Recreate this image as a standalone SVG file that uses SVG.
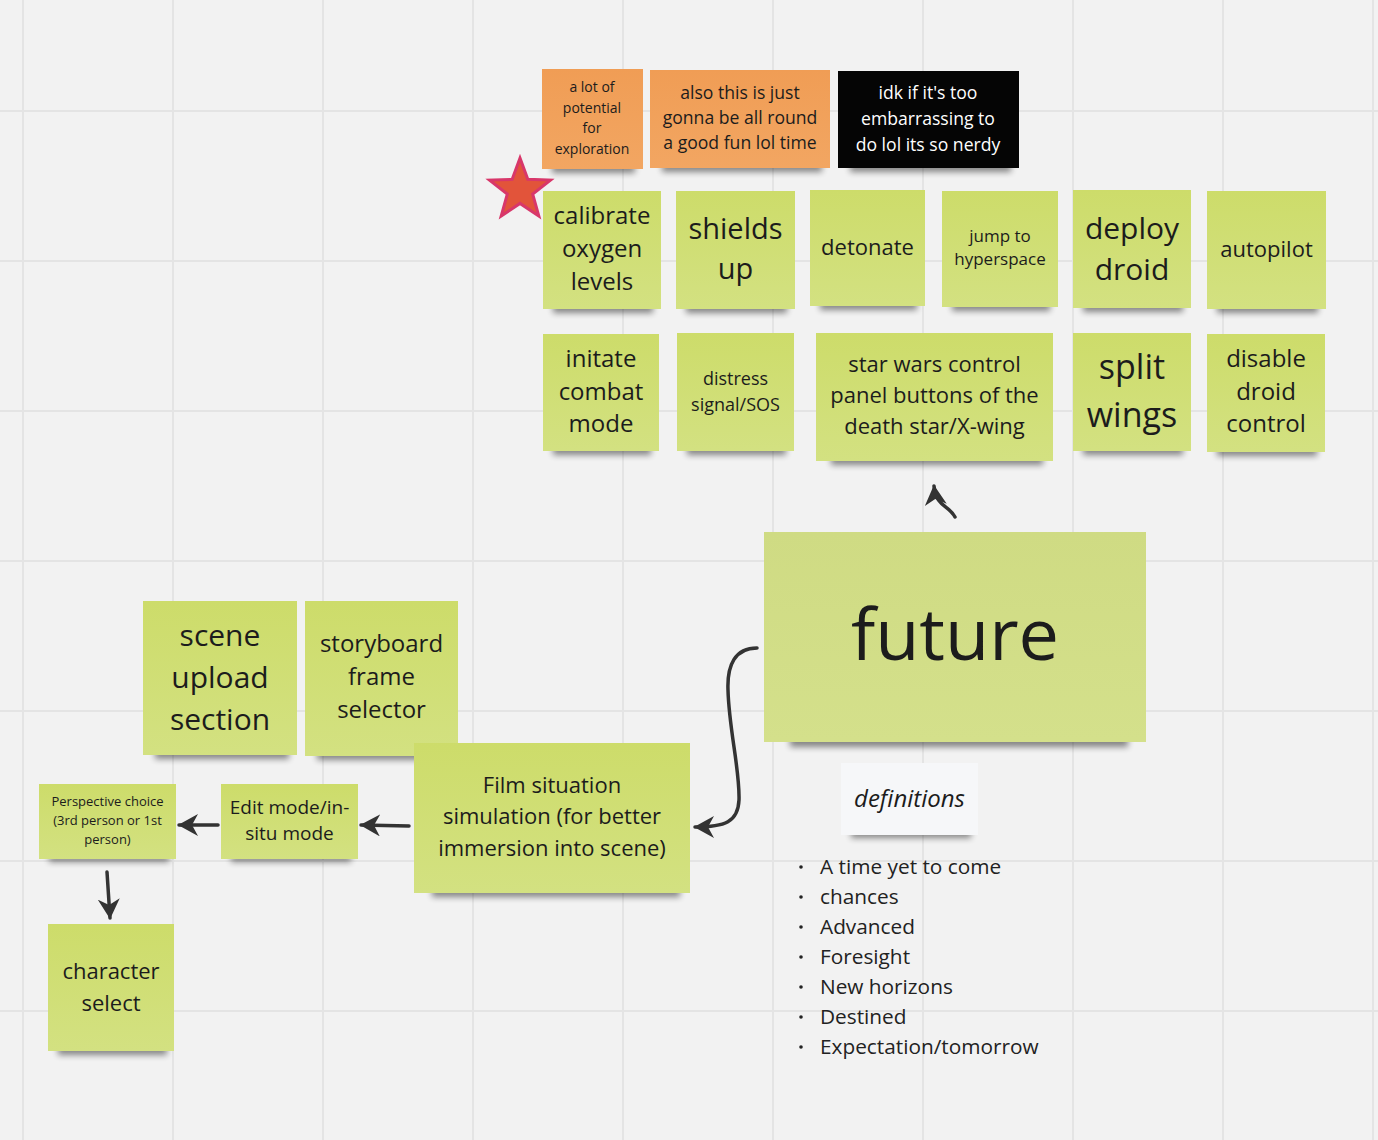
<svg xmlns="http://www.w3.org/2000/svg" width="1378" height="1140" viewBox="0 0 1378 1140">
<defs>
<filter id="blur" x="-20%" y="-100%" width="140%" height="300%"><feGaussianBlur stdDeviation="3"/></filter>
<linearGradient id="g" x1="0" y1="0" x2="0" y2="1"><stop offset="0" stop-color="#cddc6a"/><stop offset="1" stop-color="#d3e181"/></linearGradient>
<linearGradient id="gf" x1="0" y1="0" x2="0" y2="1"><stop offset="0" stop-color="#cfdb83"/><stop offset="1" stop-color="#d4e08b"/></linearGradient>
<linearGradient id="go" x1="0" y1="0" x2="0" y2="1"><stop offset="0" stop-color="#f09d55"/><stop offset="1" stop-color="#f2a662"/></linearGradient>
<marker id="ah" viewBox="0 0 20 22" refX="19" refY="11" markerWidth="20" markerHeight="22" markerUnits="userSpaceOnUse" orient="auto"><path d="M0,0 L20,11 L0,22 L6,11 Z" fill="#333"/></marker>
<style>
.grid{stroke:#e4e4e4;stroke-width:2}
.sh{fill:#000;opacity:.45;filter:url(#blur)}
.n{fill:url(#g)}
.o{fill:url(#go)}
text{font-family:"Open Sans","Noto Sans","Liberation Sans",sans-serif;fill:#1c1c1c;text-anchor:middle}
.w{fill:#fff}
.c{fill:none;stroke:#333;stroke-width:3.5;stroke-linecap:round;marker-end:url(#ah)}
.bl{text-anchor:start;font-size:20.8px;fill:#222}
</style>
</defs>
<rect width="1378" height="1140" fill="#f2f2f2"/>
<g id="grid">
<path class="grid" d="M23,0V1140M173,0V1140M323,0V1140M473,0V1140M623,0V1140M773,0V1140M923,0V1140M1073,0V1140M1223,0V1140M1373,0V1140M0,111H1378M0,261H1378M0,411H1378M0,561H1378M0,711H1378M0,861H1378M0,1011H1378"/>
</g>
<g id="n-o1"><rect class="sh" x="552" y="163" width="83" height="10"/><rect class="o" x="542" y="69" width="101" height="100"/>
<text font-size="14"><tspan x="592" y="92">a lot of</tspan><tspan x="592" y="113">potential</tspan><tspan x="592" y="133">for</tspan><tspan x="592" y="154">exploration</tspan></text></g>
<g id="n-o2"><rect class="sh" x="662" y="162" width="160" height="10"/><rect class="o" x="650" y="70" width="180" height="98"/>
<text font-size="17.6"><tspan x="740" y="99">also this is just</tspan><tspan x="740" y="124">gonna be all round</tspan><tspan x="740" y="149">a good fun lol time</tspan></text></g>
<g id="n-o3"><rect class="sh" x="850" y="162" width="161" height="10"/><rect fill="#050505" x="838" y="71" width="181" height="97"/>
<text font-size="17.6" class="w"><tspan class="w" x="928" y="99">idk if it's too</tspan><tspan class="w" x="928" y="125">embarrassing to</tspan><tspan class="w" x="928" y="151">do lol its so nerdy</tspan></text></g>

<g id="n-calibrate"><rect class="sh" x="553" y="303" width="100" height="10"/><rect class="n" x="543" y="191" width="118" height="118"/>
<text font-size="24"><tspan x="602" y="224">calibrate</tspan><tspan x="602" y="257">oxygen</tspan><tspan x="602" y="290">levels</tspan></text></g>
<g id="n-shields"><rect class="sh" x="686" y="303" width="101" height="10"/><rect class="n" x="676" y="191" width="119" height="118"/>
<text font-size="29"><tspan x="735.5" y="239">shields</tspan><tspan x="735.5" y="279">up</tspan></text></g>
<g id="n-detonate"><rect class="sh" x="820" y="300" width="97" height="10"/><rect class="n" x="810" y="190" width="115" height="116"/>
<text font-size="22" x="867.5" y="255">detonate</text></g>
<g id="n-jump"><rect class="sh" x="952" y="301" width="98" height="10"/><rect class="n" x="942" y="191" width="116" height="116"/>
<text font-size="17"><tspan x="1000" y="242">jump to</tspan><tspan x="1000" y="265">hyperspace</tspan></text></g>
<g id="n-deploy"><rect class="sh" x="1083" y="302" width="100" height="10"/><rect class="n" x="1073" y="190" width="118" height="118"/>
<text font-size="30"><tspan x="1132" y="239">deploy</tspan><tspan x="1132" y="280">droid</tspan></text></g>
<g id="n-autopilot"><rect class="sh" x="1217" y="303" width="101" height="10"/><rect class="n" x="1207" y="191" width="119" height="118"/>
<text font-size="22" x="1266.5" y="257">autopilot</text></g>

<g id="n-initate"><rect class="sh" x="553" y="445" width="98" height="10"/><rect class="n" x="543" y="334" width="116" height="117"/>
<text font-size="24"><tspan x="601" y="367">initate</tspan><tspan x="601" y="400">combat</tspan><tspan x="601" y="432">mode</tspan></text></g>
<g id="n-distress"><rect class="sh" x="687" y="445" width="99" height="10"/><rect class="n" x="677" y="333" width="117" height="118"/>
<text font-size="18"><tspan x="735.5" y="385">distress</tspan><tspan x="735.5" y="411">signal/SOS</tspan></text></g>
<g id="n-starwars"><rect class="sh" x="831" y="455" width="212" height="10"/><rect class="n" x="816" y="333" width="237" height="128"/>
<text font-size="22"><tspan x="934.5" y="372">star wars control</tspan><tspan x="934.5" y="403">panel buttons of the</tspan><tspan x="934.5" y="434">death star/X-wing</tspan></text></g>
<g id="n-split"><rect class="sh" x="1083" y="445" width="100" height="10"/><rect class="n" x="1073" y="333" width="118" height="118"/>
<text font-size="34"><tspan x="1132" y="379">split</tspan><tspan x="1132" y="427">wings</tspan></text></g>
<g id="n-disable"><rect class="sh" x="1217" y="446" width="100" height="10"/><rect class="n" x="1207" y="334" width="118" height="118"/>
<text font-size="24"><tspan x="1266" y="367">disable</tspan><tspan x="1266" y="400">droid</tspan><tspan x="1266" y="432">control</tspan></text></g>

<g id="n-future"><rect class="sh" x="790" y="735" width="338" height="12"/><rect fill="url(#gf)" x="764" y="532" width="382" height="210"/>
<text font-size="72" x="955" y="660">future</text></g>
<g id="n-definitions"><rect class="sh" x="851" y="829" width="120" height="9"/><rect fill="#f6f7f9" x="841" y="763" width="137" height="72"/>
<text font-size="24" font-style="italic" x="909.5" y="807">definitions</text></g>
<g id="definition-list">
<g fill="#222"><circle cx="801" cy="867" r="1.8"/><circle cx="801" cy="897" r="1.8"/><circle cx="801" cy="927" r="1.8"/><circle cx="801" cy="957" r="1.8"/><circle cx="801" cy="987" r="1.8"/><circle cx="801" cy="1017" r="1.8"/><circle cx="801" cy="1047" r="1.8"/></g>
<text class="bl" x="820" y="874">A time yet to come</text>
<text class="bl" x="820" y="904">chances</text>
<text class="bl" x="820" y="934">Advanced</text>
<text class="bl" x="820" y="964">Foresight</text>
<text class="bl" x="820" y="994">New horizons</text>
<text class="bl" x="820" y="1024">Destined</text>
<text class="bl" x="820" y="1054">Expectation/tomorrow</text>
</g>

<g id="n-scene"><rect class="sh" x="155" y="749" width="134" height="10"/><rect class="n" x="143" y="601" width="154" height="154"/>
<text font-size="30"><tspan x="220" y="646">scene</tspan><tspan x="220" y="688">upload</tspan><tspan x="220" y="730">section</tspan></text></g>
<g id="n-storyboard"><rect class="sh" x="317" y="750" width="133" height="10"/><rect class="n" x="305" y="601" width="153" height="155"/>
<text font-size="24"><tspan x="381.5" y="652">storyboard</tspan><tspan x="381.5" y="685">frame</tspan><tspan x="381.5" y="718">selector</tspan></text></g>
<g id="n-film"><rect class="sh" x="432" y="887" width="248" height="10"/><rect class="n" x="414" y="743" width="276" height="150"/>
<text font-size="22"><tspan x="552" y="793">Film situation</tspan><tspan x="552" y="824">simulation (for better</tspan><tspan x="552" y="856">immersion into scene)</tspan></text></g>
<g id="n-edit"><rect class="sh" x="231" y="853" width="120" height="9"/><rect class="n" x="221" y="784" width="137" height="75"/>
<text font-size="19"><tspan x="289.5" y="814">Edit mode/in-</tspan><tspan x="289.5" y="840">situ mode</tspan></text></g>
<g id="n-persp"><rect class="sh" x="49" y="853" width="120" height="9"/><rect class="n" x="39" y="784" width="137" height="75"/>
<text font-size="13"><tspan x="107.5" y="806">Perspective choice</tspan><tspan x="107.5" y="825">(3rd person or 1st</tspan><tspan x="107.5" y="844">person)</tspan></text></g>
<g id="n-character"><rect class="sh" x="58" y="1045" width="109" height="10"/><rect class="n" x="48" y="924" width="126" height="127"/>
<text font-size="22"><tspan x="111" y="979">character</tspan><tspan x="111" y="1011">select</tspan></text></g>

<g id="star"><polygon points="520,158 527.8,179.3 550.5,180.1 532.7,194.1 538.8,216 520,203.4 501.2,216 507.3,194.1 489.5,180.1 512.2,179.3" fill="#e2543a" stroke="#d8376a" stroke-width="3" stroke-linejoin="miter"/></g>

<g id="connectors">
<path class="c" d="M757,648 C735,648 727,665 728,690 C729,730 740,770 739,800 C738,822 725,827 695,827"/>
<path class="c" d="M955,517 C949,505 936,507 934,486"/>
<path class="c" d="M409,826 L361,825"/>
<path class="c" d="M218,825 L179,825"/>
<path class="c" d="M107,872 L110,918"/>
</g>
</svg>
